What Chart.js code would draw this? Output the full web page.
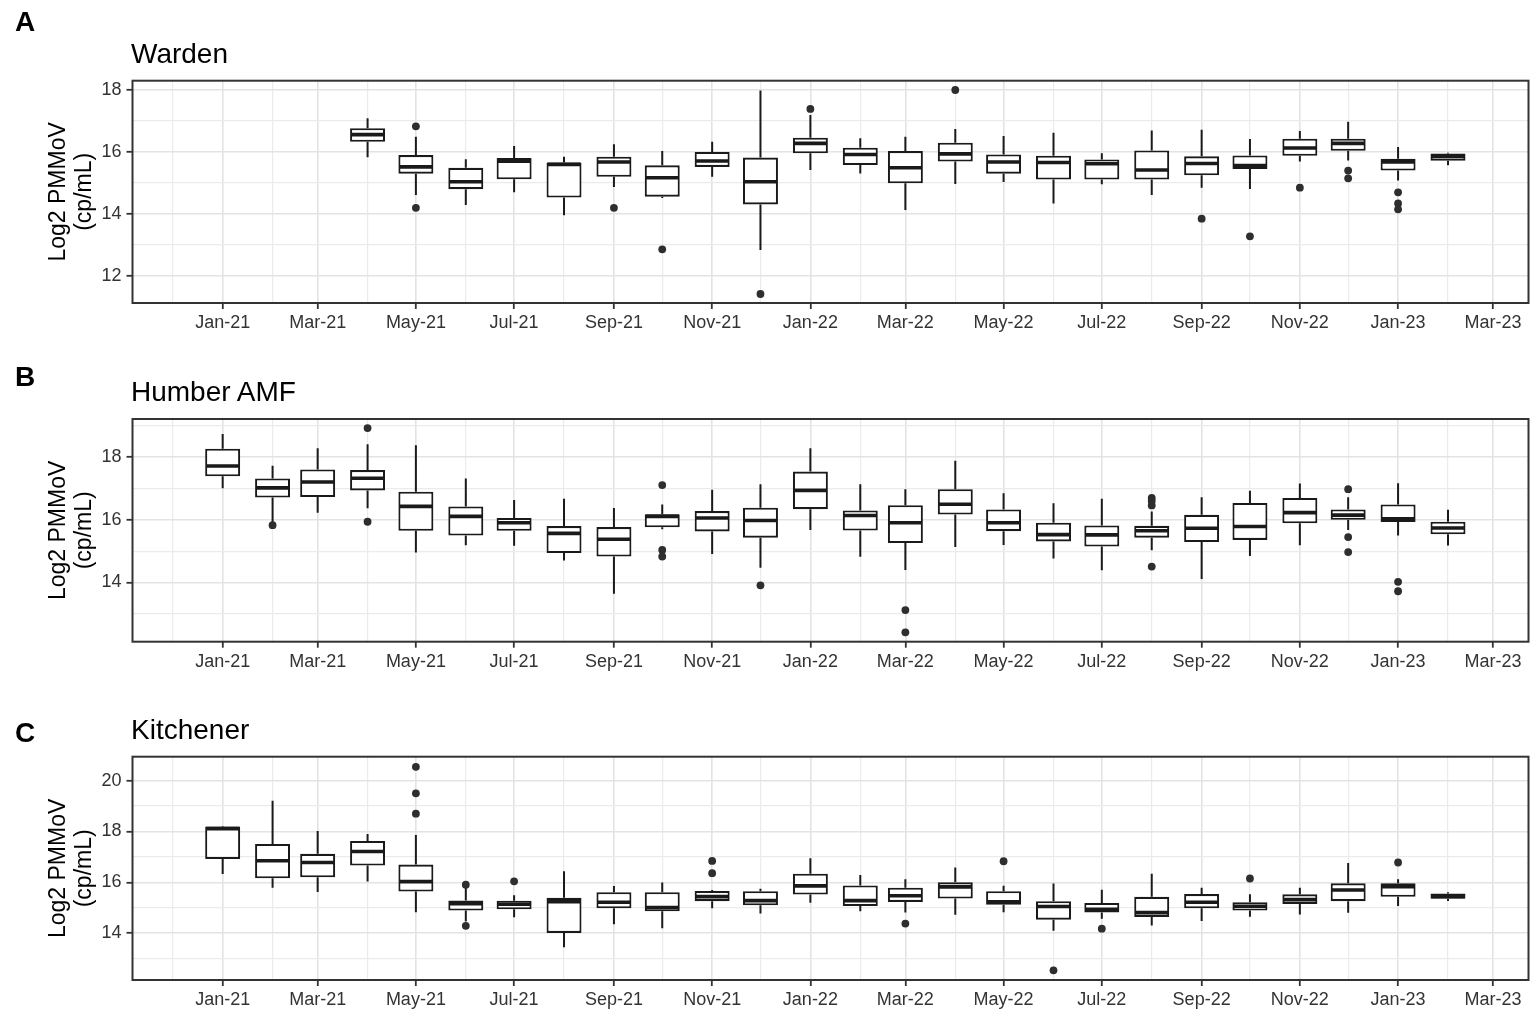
<!DOCTYPE html>
<html>
<head>
<meta charset="utf-8">
<script src="https://cdn.jsdelivr.net/npm/chart.js@4.4.1/dist/chart.umd.min.js"></script>
<style>
  body { margin: 0; background: #fff; width: 1536px; height: 1020px; overflow: hidden; position: relative;
         font-family: 'Liberation Sans', Arial, sans-serif; }
  .panel { position: absolute; left: 0; width: 1536px; height: 340px; }
  .letter { position: absolute; font-weight: bold; font-size: 28px; line-height: 28px; color: #000; }
  .title { position: absolute; font-size: 28px; line-height: 28px; color: #000; white-space: nowrap; }
</style>
</head>
<body>
<div class="panel" style="top:0px"><canvas id="chartA"></canvas></div>
<div class="panel" style="top:338px"><canvas id="chartB"></canvas></div>
<div class="panel" style="top:676px"><canvas id="chartC"></canvas></div>

<div class="letter" style="left:15px;top:8px">A</div>
<div class="title" style="left:131px;top:40px">Warden</div>
<div class="letter" style="left:15px;top:363px">B</div>
<div class="title" style="left:131px;top:378px">Humber AMF</div>
<div class="letter" style="left:15px;top:719px">C</div>
<div class="title" style="left:131px;top:716px">Kitchener</div>

<script>
// axis months (labelled every other month, light grid in between)
const tickMonths = ['2021-01', '2021-03', '2021-05', '2021-07', '2021-09', '2021-11', '2022-01',
    '2022-03', '2022-05', '2022-07', '2022-09', '2022-11', '2023-01', '2023-03'];
const tickLabels = ['Jan-21', 'Mar-21', 'May-21', 'Jul-21', 'Sep-21', 'Nov-21', 'Jan-22',
    'Mar-22', 'May-22', 'Jul-22', 'Sep-22', 'Nov-22', 'Jan-23', 'Mar-23'];
const minorMonths = ['2020-12', '2021-02', '2021-04', '2021-06', '2021-08', '2021-10', '2021-12',
    '2022-02', '2022-04', '2022-06', '2022-08', '2022-10', '2022-12', '2023-02'];

// Warden
const wardenMonths = ['2021-04', '2021-05', '2021-06', '2021-07', '2021-08', '2021-09', '2021-10', '2021-11',
    '2021-12', '2022-01', '2022-02', '2022-03', '2022-04', '2022-05', '2022-06', '2022-07', '2022-08',
    '2022-09', '2022-10', '2022-11', '2022-12', '2023-01', '2023-02'];
const wardenLow    = [15.83, 14.61, 14.29, 14.70, 13.96, 14.87, 14.52, 15.20, 12.84, 15.42, 15.31, 14.13, 14.97, 15.03, 14.34, 14.96, 14.61, 14.85, 14.81, 15.69, 15.73, 15.08, 15.57];
const wardenQ1     = [16.33, 15.30, 14.80, 15.12, 14.53, 15.20, 14.56, 15.52, 14.31, 15.96, 15.58, 14.99, 15.69, 15.30, 15.11, 15.11, 15.11, 15.25, 15.45, 15.88, 16.04, 15.40, 15.72];
const wardenMedian = [16.56, 15.52, 15.04, 15.70, 15.60, 15.68, 15.17, 15.71, 15.04, 16.28, 15.92, 15.49, 15.94, 15.68, 15.66, 15.62, 15.42, 15.63, 15.56, 16.13, 16.28, 15.68, 15.86];
const wardenQ3     = [16.77, 15.90, 15.49, 15.81, 15.66, 15.85, 15.57, 16.00, 15.82, 16.46, 16.14, 16.03, 16.30, 15.92, 15.88, 15.76, 16.05, 15.86, 15.89, 16.43, 16.43, 15.78, 15.95];
const wardenHigh   = [17.09, 16.49, 15.77, 16.19, 15.85, 16.25, 16.03, 16.33, 17.98, 17.19, 16.44, 16.49, 16.74, 16.52, 16.62, 15.96, 16.69, 16.72, 16.42, 16.68, 16.98, 16.16, 15.98];
const wardenOutliers = [['2021-05', 16.83], ['2021-05', 14.20], ['2021-09', 14.20], ['2021-10', 12.86],
    ['2021-12', 11.42], ['2022-01', 17.39], ['2022-04', 18.00], ['2022-09', 13.85], ['2022-10', 13.28],
    ['2022-11', 14.85], ['2022-12', 15.40], ['2022-12', 15.15], ['2023-01', 14.70], ['2023-01', 14.34],
    ['2023-01', 14.15]];

// Humber AMF
const humberMonths = ['2021-01', '2021-02', '2021-03', '2021-04', '2021-05', '2021-06', '2021-07', '2021-08',
    '2021-09', '2021-10', '2021-11', '2021-12', '2022-01', '2022-02', '2022-03', '2022-04', '2022-05',
    '2022-06', '2022-07', '2022-08', '2022-09', '2022-10', '2022-11', '2022-12', '2023-01', '2023-02'];
const humberLow    = [17.01, 15.90, 16.23, 16.37, 14.96, 15.19, 15.17, 14.70, 13.64, 15.70, 14.91, 14.47, 15.68, 14.82, 14.40, 15.13, 15.20, 14.77, 14.39, 15.03, 14.11, 14.85, 15.19, 15.68, 15.50, 15.18];
const humberQ1     = [17.39, 16.71, 16.73, 16.94, 15.65, 15.50, 15.65, 14.94, 14.83, 15.76, 15.63, 15.43, 16.34, 15.66, 15.26, 16.17, 15.64, 15.31, 15.15, 15.43, 15.29, 15.36, 15.89, 16.00, 15.93, 15.54];
const humberMedian = [17.72, 17.02, 17.21, 17.33, 16.43, 16.11, 15.91, 15.57, 15.38, 16.11, 16.06, 15.98, 16.94, 16.14, 15.91, 16.50, 15.91, 15.53, 15.52, 15.65, 15.73, 15.79, 16.23, 16.15, 16.03, 15.74];
const humberQ3     = [18.27, 17.32, 17.61, 17.59, 16.90, 16.43, 16.06, 15.80, 15.77, 16.18, 16.28, 16.39, 17.54, 16.30, 16.47, 16.98, 16.33, 15.91, 15.82, 15.81, 16.16, 16.54, 16.70, 16.33, 16.49, 15.94];
const humberHigh   = [18.74, 17.73, 18.29, 18.41, 18.38, 17.32, 16.63, 16.67, 16.38, 16.49, 16.96, 17.14, 18.29, 17.14, 16.98, 17.89, 16.85, 16.53, 16.67, 16.27, 16.72, 16.93, 17.16, 16.72, 17.17, 16.32];
const humberOutliers = [['2021-02', 15.83], ['2021-04', 18.93], ['2021-04', 15.94], ['2021-10', 17.11],
    ['2021-10', 15.04], ['2021-10', 14.83], ['2021-12', 13.91], ['2022-03', 13.12], ['2022-03', 12.41],
    ['2022-08', 16.70], ['2022-08', 16.60], ['2022-08', 16.46], ['2022-08', 14.51], ['2022-12', 16.98],
    ['2022-12', 15.45], ['2022-12', 14.97], ['2023-01', 14.02], ['2023-01', 13.72]];

// Kitchener
const kitchenerMonths = humberMonths.slice();
const kitchenerLow    = [16.33, 15.79, 15.62, 16.03, 14.82, 14.46, 14.63, 13.45, 14.35, 14.19, 14.98, 14.77, 15.20, 14.86, 14.81, 14.73, 14.82, 14.10, 14.57, 14.30, 14.48, 14.65, 14.74, 14.80, 15.07, 15.27];
const kitchenerQ1     = [16.92, 16.16, 16.20, 16.66, 15.64, 14.89, 14.94, 14.01, 14.98, 14.86, 15.26, 15.10, 15.52, 15.07, 15.23, 15.36, 15.12, 14.53, 14.81, 14.64, 14.98, 14.89, 15.15, 15.26, 15.43, 15.35];
const kitchenerMedian = [18.11, 16.85, 16.78, 17.21, 16.03, 15.16, 15.14, 15.24, 15.22, 15.01, 15.44, 15.28, 15.86, 15.28, 15.47, 15.82, 15.23, 15.05, 14.94, 14.81, 15.22, 15.06, 15.32, 15.70, 15.83, 15.45];
const kitchenerQ3     = [18.20, 17.51, 17.12, 17.63, 16.70, 15.29, 15.28, 15.39, 15.61, 15.61, 15.66, 15.65, 16.34, 15.88, 15.79, 16.00, 15.65, 15.26, 15.19, 15.43, 15.54, 15.22, 15.53, 15.96, 15.96, 15.56];
const kitchenerHigh   = [18.22, 19.21, 18.02, 17.90, 17.86, 15.78, 15.49, 16.44, 15.86, 15.99, 15.70, 15.75, 16.95, 16.29, 16.12, 16.58, 15.87, 15.95, 15.71, 16.34, 15.79, 15.53, 15.79, 16.76, 16.12, 15.61];
const kitchenerOutliers = [['2021-05', 20.54], ['2021-05', 19.50], ['2021-05', 18.70], ['2021-06', 15.91],
    ['2021-06', 14.29], ['2021-07', 16.04], ['2021-11', 16.84], ['2021-11', 16.36], ['2022-03', 14.38],
    ['2022-05', 16.83], ['2022-06', 12.54], ['2022-07', 14.18], ['2022-10', 16.15], ['2023-01', 16.78]];

const FONT = "'Liberation Sans', Arial, sans-serif";
const X_MIN = -56, X_MAX = 811;   // days from 1 Jan 2021

function dayOf(m) {
    var p = m.split('-').map(Number);
    return (Date.UTC(p[0], p[1] - 1, 1) - Date.UTC(2021, 0, 1)) / 86400000;
}

var majorDays = tickMonths.map(dayOf);
var axisDays = majorDays.concat(minorMonths.map(dayOf)).sort(function (a, b) { return a - b; });

function isMajorX(v) { return majorDays.indexOf(v) >= 0; }

// whiskers under the boxes, medians on top, frame round the panel
var boxParts = {
    id: 'boxParts',
    beforeDatasetsDraw: function (chart) {
        var st = chart.data.datasets[0].stats;
        var x = chart.scales.x, y = chart.scales.y, ctx = chart.ctx;
        ctx.save();
        ctx.strokeStyle = '#1a1a1a';
        ctx.lineWidth = 2;
        ctx.beginPath();
        st.days.forEach(function (d, i) {
            var px = x.getPixelForValue(d);
            ctx.moveTo(px, y.getPixelForValue(st.low[i]));
            ctx.lineTo(px, y.getPixelForValue(st.q1[i]));
            ctx.moveTo(px, y.getPixelForValue(st.q3[i]));
            ctx.lineTo(px, y.getPixelForValue(st.high[i]));
        });
        ctx.stroke();
        ctx.restore();
    },
    afterDatasetsDraw: function (chart) {
        var st = chart.data.datasets[0].stats;
        var y = chart.scales.y, ctx = chart.ctx;
        var bars = chart.getDatasetMeta(0).data;
        ctx.save();
        ctx.strokeStyle = '#1a1a1a';
        ctx.lineWidth = 3.6;
        ctx.beginPath();
        bars.forEach(function (bar, i) {
            var half = bar.width / 2 - 1;
            var py = y.getPixelForValue(st.median[i]);
            ctx.moveTo(bar.x - half, py);
            ctx.lineTo(bar.x + half, py);
        });
        ctx.stroke();
        ctx.restore();
    },
    afterDraw: function (chart) {
        var a = chart.chartArea, ctx = chart.ctx;
        ctx.save();
        ctx.strokeStyle = '#333';
        ctx.lineWidth = 2;
        ctx.strokeRect(a.left, a.top, a.right - a.left, a.bottom - a.top);
        ctx.restore();
    }
};

function makePanel(id, months, low, q1, median, q3, high, outliers, yMin, yMax, padTop, xHeight) {
    var days = months.map(dayOf);
    var boxes = days.map(function (d, i) { return { x: d, y: [q1[i], q3[i]] }; });
    var dots = outliers.map(function (o) { return { x: dayOf(o[0]), y: o[1] }; });

    return new Chart(document.getElementById(id), {
        type: 'bar',
        data: {
            datasets: [{
                type: 'bar',
                data: boxes,
                stats: { days: days, low: low, q1: q1, median: median, q3: q3, high: high },
                backgroundColor: '#ffffff',
                borderColor: '#1a1a1a',
                borderWidth: 2.1,
                borderSkipped: false,
                barThickness: 35,
                inflateAmount: 0,
                order: 1
            }, {
                type: 'scatter',
                data: dots,
                pointRadius: 3.9,
                pointBackgroundColor: '#2e2e2e',
                pointBorderWidth: 0,
                order: 0
            }]
        },
        options: {
            responsive: true,
            maintainAspectRatio: false,
            animation: false,
            layout: { padding: { top: padTop, right: 7.5, left: 0, bottom: 0 } },
            plugins: { legend: { display: false }, tooltip: { enabled: false } },
            scales: {
                x: {
                    type: 'linear',
                    min: X_MIN,
                    max: X_MAX,
                    offset: false,
                    afterBuildTicks: function (s) { s.ticks = axisDays.map(function (d) { return { value: d }; }); },
                    afterFit: function (s) { s.height = xHeight; },
                    border: { display: false },
                    grid: {
                        offset: false,
                        color: function (c) { return isMajorX(c.tick.value) ? '#e3e3e3' : '#ebebeb'; },
                        lineWidth: function (c) { return isMajorX(c.tick.value) ? 1.6 : 1.2; },
                        tickLength: 6,
                        tickWidth: 1.8,
                        tickColor: function (c) { return isMajorX(c.tick.value) ? '#333' : 'rgba(0,0,0,0)'; }
                    },
                    ticks: {
                        autoSkip: false,
                        maxRotation: 0,
                        minRotation: 0,
                        padding: 3.5,
                        color: '#333',
                        font: { family: FONT, size: 18 },
                        callback: function (v) {
                            var k = majorDays.indexOf(v);
                            return k >= 0 ? tickLabels[k] : '';
                        }
                    }
                },
                y: {
                    min: yMin,
                    max: yMax,
                    afterBuildTicks: function (s) {
                        var t = [];
                        for (var v = Math.ceil(s.min); v <= Math.floor(s.max); v++) t.push({ value: v });
                        s.ticks = t;
                    },
                    afterFit: function (s) { s.width = 132.5; },
                    border: { display: false },
                    grid: {
                        color: function (c) { return c.tick.value % 2 === 0 ? '#e3e3e3' : '#ebebeb'; },
                        lineWidth: function (c) { return c.tick.value % 2 === 0 ? 1.6 : 1.2; },
                        tickLength: 6,
                        tickWidth: 1.8,
                        tickColor: function (c) { return c.tick.value % 2 === 0 ? '#333' : 'rgba(0,0,0,0)'; }
                    },
                    ticks: {
                        padding: 5,
                        color: '#333',
                        font: { family: FONT, size: 18 },
                        callback: function (v) { return v % 2 === 0 ? String(v) : ''; }
                    },
                    title: {
                        display: true,
                        text: ['Log2 PMMoV', '(cp/mL)'],
                        color: '#000',
                        font: { family: FONT, size: 23, lineHeight: 1.12 },
                        padding: { top: 46, bottom: 0 }
                    }
                }
            }
        },
        plugins: [boxParts]
    });
}

makePanel('chartA', wardenMonths, wardenLow, wardenQ1, wardenMedian, wardenQ3, wardenHigh, wardenOutliers,
    11.13, 18.30, 80.7, 37);
makePanel('chartB', humberMonths, humberLow, humberQ1, humberMedian, humberQ3, humberHigh, humberOutliers,
    12.11, 19.22, 81, 36.3);
makePanel('chartC', kitchenerMonths, kitchenerLow, kitchenerQ1, kitchenerMedian, kitchenerQ3, kitchenerHigh,
    kitchenerOutliers, 12.16, 20.94, 80.7, 36);
</script>
</body>
</html>
